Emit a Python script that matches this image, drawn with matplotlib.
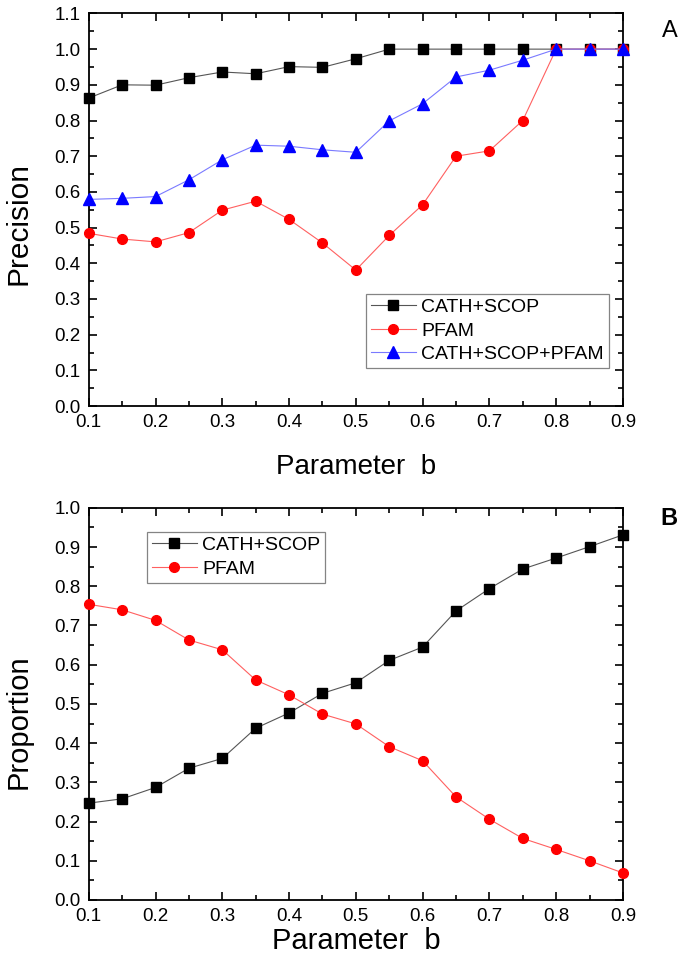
import matplotlib
matplotlib.use("Agg")
import matplotlib.pyplot as plt
from matplotlib.ticker import MultipleLocator

plt.rcParams['font.family'] = ['Liberation Sans', 'DejaVu Sans']

b_values = [0.1, 0.15, 0.2, 0.25, 0.3, 0.35, 0.4, 0.45, 0.5,
            0.55, 0.6, 0.65, 0.7, 0.75, 0.8, 0.85, 0.9]

# panel A - precision
prec_cath_scop = [0.863, 0.900, 0.899, 0.920, 0.936, 0.931, 0.951, 0.949, 0.973,
                  1.0, 1.0, 1.0, 1.0, 1.0, 1.0, 1.0, 1.0]
prec_pfam = [0.484, 0.468, 0.460, 0.486, 0.549, 0.574, 0.523, 0.457, 0.381,
             0.478, 0.564, 0.700, 0.715, 0.800, 1.0, 1.0, 1.0]
prec_all = [0.579, 0.582, 0.587, 0.634, 0.690, 0.731, 0.728, 0.718, 0.711,
            0.799, 0.847, 0.922, 0.941, 0.969, 1.0, 1.0, 1.0]

# panel B - proportion
prop_cath_scop = [0.247, 0.258, 0.287, 0.336, 0.361, 0.438, 0.477, 0.527, 0.554,
                  0.611, 0.645, 0.737, 0.794, 0.844, 0.872, 0.901, 0.931]
prop_pfam = [0.754, 0.740, 0.713, 0.663, 0.638, 0.561, 0.523, 0.474, 0.449,
             0.391, 0.355, 0.263, 0.206, 0.157, 0.129, 0.100, 0.069]


def style_axes(ax, ymax):
    ax.set_xlim(0.1, 0.9)
    ax.set_ylim(0.0, ymax)
    ax.xaxis.set_major_locator(MultipleLocator(0.1))
    ax.xaxis.set_minor_locator(MultipleLocator(0.05))
    ax.yaxis.set_major_locator(MultipleLocator(0.1))
    ax.yaxis.set_minor_locator(MultipleLocator(0.05))
    ax.tick_params(which='both', direction='in', top=True, right=True, width=1.2,
                   labelsize=13.5, pad=6)
    ax.tick_params(which='major', length=6)
    ax.tick_params(which='minor', length=3.5)
    ax.xaxis.set_major_formatter(plt.FuncFormatter(lambda v, p: f"{v:.1f}"))
    ax.yaxis.set_major_formatter(plt.FuncFormatter(lambda v, p: f"{v:.1f}"))
    for s in ax.spines.values():
        s.set_linewidth(1.3)


def add_legend(ax, anchor, loc):
    leg = ax.legend(loc=loc, bbox_to_anchor=anchor, fontsize=14,
                    frameon=True, fancybox=False, edgecolor='#666666',
                    borderaxespad=0, handlelength=2.3, handletextpad=0.3,
                    borderpad=0.25, labelspacing=0.3)
    leg.get_frame().set_linewidth(0.9)
    return leg


fig = plt.figure(figsize=(6.83, 9.6), dpi=100)
axA = fig.add_axes([0.130, 0.577, 0.782, 0.409])
axB = fig.add_axes([0.130, 0.0625, 0.782, 0.4085])

ms = 7
axA.plot(b_values, prec_cath_scop, '-s', color='#555555', mfc='black', mec='black',
         lw=0.8, ms=ms, label='CATH+SCOP', clip_on=False, zorder=3)
axA.plot(b_values, prec_pfam, '-o', color='#ff6060', mfc='red', mec='red',
         lw=0.8, ms=ms, label='PFAM', clip_on=False, zorder=3)
axA.plot(b_values, prec_all, '-^', color='#7a7aff', mfc='blue', mec='blue',
         lw=0.8, ms=ms + 1, label='CATH+SCOP+PFAM', clip_on=False, zorder=3)
style_axes(axA, 1.1)
axA.set_xlabel('Parameter  b', fontsize=20, labelpad=16)
axA.set_ylabel('Precision', fontsize=21.5)
axA.yaxis.set_label_coords(-0.105, 0.464)
add_legend(axA, (0.519, 0.286), 'upper left')
fig.text(0.98, 0.968, 'A', fontsize=17, ha='center', va='center')

axB.plot(b_values, prop_cath_scop, '-s', color='#555555', mfc='black', mec='black',
         lw=0.8, ms=ms, label='CATH+SCOP', clip_on=False, zorder=3)
axB.plot(b_values, prop_pfam, '-o', color='#ff6060', mfc='red', mec='red',
         lw=0.8, ms=ms, label='PFAM', clip_on=False, zorder=3)
style_axes(axB, 1.0)
axB.set_xlabel('Parameter  b', fontsize=21, labelpad=1)
axB.set_ylabel('Proportion', fontsize=21)
axB.yaxis.set_label_coords(-0.105, 0.454)
add_legend(axB, (0.109, 0.939), 'upper left')
fig.text(0.98, 0.46, 'B', fontsize=17, fontweight='bold', ha='center', va='center')

fig.savefig('out.png', dpi=100)
